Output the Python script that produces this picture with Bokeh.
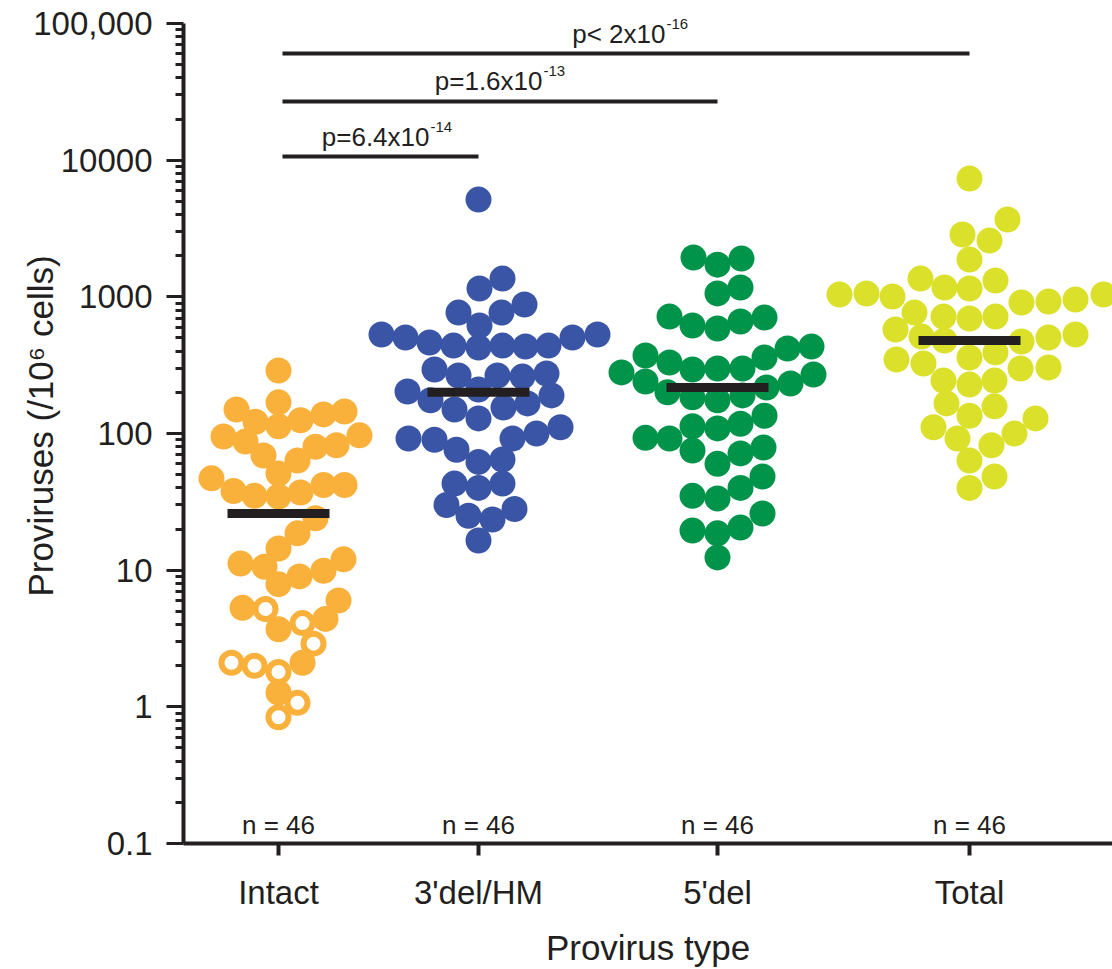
from bokeh.plotting import figure
from bokeh.models import FixedTicker, Range1d, Label
from bokeh.core.properties import value
from bokeh.embed import file_html
from bokeh.resources import INLINE

# ---------------- data ----------------
categories = ["Intact", "3'del/HM", "5'del", "Total"]
category_pos = [1.0, 2.0, 3.195, 4.455]
colors = ["#F9B13B", "#3A55A6", "#00934A", "#DBE02A"]

intact_vals = [289, 169, 150, 122, 113, 125, 138, 145, 95, 87.5, 69, 63.5, 80, 82, 97,
               51, 47, 38, 35, 34.6, 37, 42, 42, 24, 18.6, 14.4, 11.2, 10.6, 7.9, 9.0, 9.9, 12,
               5.3, 5.2, 3.7, 4.1, 4.4, 6.0, 2.9, 2.1, 2.0, 1.8, 2.1, 1.27, 1.07, 0.84]
intact_dx = [0, 0, -42, -23, 0, 22, 45, 66, -55, -33, -15, 19, 37, 58, 81,
             0, -67, -45, -24, 0, 22, 45, 66, 37, 19, 0, -38, -14, 0, 21, 45, 65,
             -36, -13, 0, 24, 47, 60, 35, -47, -24, 0, 24, 0, 19, 0]
intact_open = [False] * 33 + [True, False, True, False, False, True, True, True, True,
                              False, False, True, True]

del3_vals = [5150, 1360, 1150, 767, 767, 880, 617, 530, 504, 463, 440, 426, 440, 433, 440,
             504, 530, 294, 266, 266, 261, 275, 203, 175, 210, 150, 129, 155, 166, 190,
             92, 90, 76, 62, 64.5, 92, 100, 111, 43, 40, 43, 30, 25, 23.5, 28, 16.5]
del3_dx = [0, 24, 1, -20, 23, 46, 1, -97, -73, -49, -25, 0, 24, 47, 70, 94, 119,
           -44, -20, 19, 44, 68, -71, -48, 0, -24, 0, 25, 49, 73,
           -70, -44, -22, 0, 24, 34, 58, 82, -24, 0, 24, -32, -10, 14, 36, 0]

del5_vals = [1940, 1720, 1910, 1060, 1170, 717, 617, 587, 660, 706, 372, 331, 280, 240,
             294, 299, 299, 360, 419, 433, 200, 184, 175, 190, 217, 232, 270,
             93, 92, 113, 109, 118, 135, 75, 60, 71.5, 79, 35, 33.5, 40, 48.5,
             19.5, 18.6, 20.5, 26, 12.4]
del5_dx = [-24, 0, 24, 0, 23, -48, -25, 0, 23, 47, -72, -48, -96, -72, -25, 0, 25, 47,
           70, 94, -50, -25, 0, 25, 49, 73, 96, -72, -48, -25, 0, 23, 47,
           -25, 0, 23, 46, -25, 0, 23, 45, -25, 0, 23, 45, 0]

total_vals = [7330, 3680, 2860, 2580, 1875, 1360, 1170, 1150, 1316, 1040, 1057, 1005,
              910, 925, 956, 1040, 767, 717, 694, 717, 577, 512, 479, 471, 504, 530,
              348, 325, 360, 392, 299, 304, 244, 228, 244, 166, 135, 158,
              111, 92, 82, 100, 129, 63.5, 48.5, 40]
total_dx = [0, 38, -7, 20, 0, -49, -25, 0, 26, -130, -103, -77, 52, 79, 106, 134,
            -55, -26, 0, 26, -74, -48, -25, 52, 79, 106, -73, -46, 0, 26, 51, 79,
            -26, 0, 25, -23, 0, 25, -36, -12, 22, 45, 66, 0, 25, 0]

group_means = [26, 200, 217, 480]

# significance comparisons (Intact vs each group)
comp_target = [1, 2, 3]
comp_y = [10640, 26900, 60300]
comp_text = ["p=6.4x10", "p=1.6x10", "p< 2x10"]
comp_exp = ["-14", "-13", "-16"]
comp_text_anchor = [1.755, 2.32, 2.935]

y_major = [0.1, 1, 10, 100, 1000, 10000, 100000]
y_major_labels = ["0.1", "1", "10", "100", "1000", "10000", "100,000"]

SWARM_UNIT = 1.0 / 200.0
FONT = "Liberation Sans"
INK = "#231F20"

# ---------------- figure ----------------
# a little headroom above 100,000 so the top p-value exponent is not clipped
p = figure(width=1112, height=969, output_backend="svg", toolbar_location=None,
           x_range=Range1d(0.525, 5.17), y_range=Range1d(0.1, 128800),
           y_axis_type="log",
           min_border_left=183, min_border_right=0, min_border_top=8,
           min_border_bottom=126)
p.outline_line_color = None
p.xgrid.visible = False
p.ygrid.visible = False
p.background_fill_color = "white"
p.border_fill_color = "white"

all_vals = [intact_vals, del3_vals, del5_vals, total_vals]
all_dx = [intact_dx, del3_dx, del5_dx, total_dx]

for gi, (vals, dxs) in enumerate(zip(all_vals, all_dx)):
    xs = [category_pos[gi] + d * SWARM_UNIT for d in dxs]
    if gi == 0:
        fx = [x for x, o in zip(xs, intact_open) if not o]
        fy = [v for v, o in zip(vals, intact_open) if not o]
        ox = [x for x, o in zip(xs, intact_open) if o]
        oy = [v for v, o in zip(vals, intact_open) if o]
        p.scatter(fx, fy, size=26, marker="circle", fill_color=colors[gi], line_color=None)
        p.scatter(ox, oy, size=20, marker="circle", fill_color="white",
                  line_color=colors[gi], line_width=6)
    else:
        p.scatter(xs, vals, size=26, marker="circle", fill_color=colors[gi], line_color=None)

# mean bars
p.segment(x0=[c - 0.255 for c in category_pos], x1=[c + 0.255 for c in category_pos],
          y0=group_means, y1=group_means, line_width=9, line_color=INK, line_cap="butt")

# significance lines and texts
p.segment(x0=[category_pos[0] + 0.02] * 3, x1=[category_pos[t] for t in comp_target],
          y0=comp_y, y1=comp_y, line_width=4, line_color=INK, line_cap="butt")
for xa, yv, base, ex in zip(comp_text_anchor, comp_y, comp_text, comp_exp):
    p.add_layout(Label(x=xa, y=yv, text=base, text_align="right",
                       text_baseline="alphabetic", y_offset=20, text_font=FONT,
                       text_font_size="26px", text_color=INK))
    p.add_layout(Label(x=xa, y=yv, text=ex, text_align="left",
                       text_baseline="alphabetic", x_offset=1, y_offset=30, text_font=FONT,
                       text_font_size="15px", text_color=INK))

# n labels
p.text(x=category_pos, y=[y_major[0]] * 4, text=[f"n = {len(v)}" for v in all_vals],
       text_align="center", text_baseline="alphabetic", y_offset=-19,
       text_font=value(FONT), text_font_size="26px", text_color=INK)

# ---------------- axes ----------------
minor = [k * 10 ** e for e in range(-1, 5) for k in range(2, 10)]
yax = p.yaxis[0]
yax.bounds = (y_major[0], y_major[-1])
yax.ticker = FixedTicker(ticks=y_major, minor_ticks=minor)
yax.major_label_overrides = {t: l for t, l in zip(y_major, y_major_labels)}
yax.axis_label = "Proviruses (/10\u2076 cells)"
yax.axis_label_text_font = FONT
yax.axis_label_text_font_size = "35px"
yax.axis_label_text_font_style = "normal"
yax.axis_label_text_color = INK
yax.axis_label_standoff = -30
yax.major_label_text_font = FONT
yax.major_label_text_font_size = "33px"
yax.major_label_text_color = INK
yax.major_label_standoff = 14
yax.axis_line_width = 4
yax.axis_line_color = INK
yax.major_tick_line_width = 3
yax.major_tick_line_color = INK
yax.minor_tick_line_width = 3
yax.minor_tick_line_color = INK
yax.major_tick_out = 17
yax.major_tick_in = 0
yax.minor_tick_out = 8
yax.minor_tick_in = 0

xax = p.xaxis[0]
xax.ticker = FixedTicker(ticks=category_pos, minor_ticks=[])
xax.major_label_overrides = {t: l for t, l in zip(category_pos, categories)}
xax.axis_label = "Provirus type"
xax.axis_label_text_font = FONT
xax.axis_label_text_font_size = "35px"
xax.axis_label_text_font_style = "normal"
xax.axis_label_text_color = INK
xax.axis_label_standoff = 14
xax.major_label_text_font = FONT
xax.major_label_text_font_size = "33px"
xax.major_label_text_color = INK
xax.major_label_standoff = 18
xax.axis_line_width = 4
xax.axis_line_color = INK
xax.major_tick_line_width = 4
xax.major_tick_line_color = INK
xax.major_tick_out = 12
xax.major_tick_in = 0
xax.minor_tick_out = 0
xax.minor_tick_in = 0

open("out.html", "w").write(file_html(p, INLINE))
